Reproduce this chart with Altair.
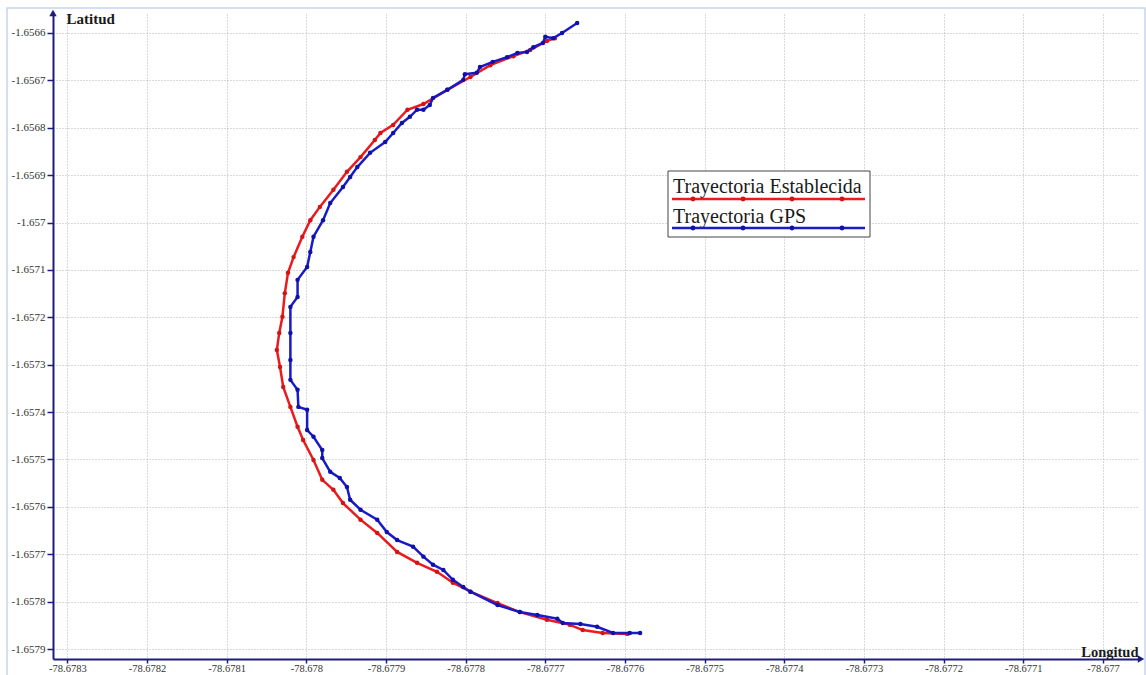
import altair as alt
import pandas as pd

# Planned path (red) and GPS fixes (blue), in degrees
ref_lon = [-78.677688, -78.677698, -78.677719, -78.677740, -78.677769, -78.677794, -78.677823,
           -78.677853, -78.677873, -78.677891, -78.677907, -78.677914, -78.677932, -78.677949,
           -78.677966, -78.677983, -78.677995, -78.678005, -78.678016, -78.678023, -78.678027,
           -78.678030, -78.678034, -78.678037, -78.678033, -78.678029, -78.678020, -78.678011,
           -78.678004, -78.677991, -78.677980, -78.677966, -78.677954, -78.677932, -78.677911,
           -78.677886, -78.677861, -78.677836, -78.677816, -78.677794, -78.677760, -78.677732,
           -78.677698, -78.677669, -78.677653, -78.677628, -78.677597]
ref_lat = [-1.656611, -1.656617, -1.656636, -1.656649, -1.656668, -1.656693, -1.656720,
           -1.656750, -1.656762, -1.656794, -1.656811, -1.656826, -1.656862, -1.656893,
           -1.656931, -1.656967, -1.656995, -1.657030, -1.657073, -1.657106, -1.657149,
           -1.657199, -1.657233, -1.657269, -1.657305, -1.657347, -1.657389, -1.657431,
           -1.657459, -1.657501, -1.657543, -1.657564, -1.657592, -1.657627, -1.657655,
           -1.657695, -1.657718, -1.657737, -1.657760, -1.657779, -1.657803, -1.657822,
           -1.657838, -1.657849, -1.657860, -1.657866, -1.657868]

gps_lon = [-78.677660, -78.677679, -78.677690, -78.677700, -78.677703, -78.677715, -78.677723,
           -78.677735, -78.677748, -78.677766, -78.677782, -78.677786, -78.677801, -78.677803,
           -78.677823, -78.677841, -78.677845, -78.677853, -78.677861, -78.677870, -78.677880,
           -78.677891, -78.677901, -78.677920, -78.677936, -78.677945, -78.677954, -78.677970,
           -78.677979, -78.677991, -78.677995, -78.677999, -78.678011, -78.678011, -78.678020,
           -78.678020, -78.678020, -78.678020, -78.678011, -78.678010, -78.677999, -78.677999,
           -78.677991, -78.677980, -78.677980, -78.677970, -78.677958, -78.677949, -78.677945,
           -78.677932, -78.677911, -78.677899, -78.677886, -78.677866, -78.677853, -78.677841,
           -78.677828, -78.677816, -78.677803, -78.677794, -78.677760, -78.677732, -78.677710,
           -78.677685, -78.677678, -78.677656, -78.677635, -78.677615, -78.677594, -78.677581]
gps_lat = [-1.656579, -1.656600, -1.656611, -1.656608, -1.656621, -1.656630, -1.656640,
           -1.656642, -1.656651, -1.656661, -1.656672, -1.656684, -1.656687, -1.656699,
           -1.656720, -1.656737, -1.656752, -1.656762, -1.656762, -1.656777, -1.656790,
           -1.656811, -1.656830, -1.656853, -1.656883, -1.656904, -1.656925, -1.656959,
           -1.656995, -1.657030, -1.657062, -1.657094, -1.657121, -1.657157, -1.657178,
           -1.657233, -1.657290, -1.657332, -1.657353, -1.657389, -1.657395, -1.657438,
           -1.657452, -1.657480, -1.657497, -1.657526, -1.657539, -1.657558, -1.657585,
           -1.657606, -1.657627, -1.657653, -1.657670, -1.657684, -1.657705, -1.657722,
           -1.657733, -1.657754, -1.657769, -1.657779, -1.657807, -1.657822, -1.657828,
           -1.657836, -1.657845, -1.657847, -1.657853, -1.657866, -1.657866, -1.657866]

lon_ticks = [-78.6783, -78.6782, -78.6781, -78.678, -78.6779, -78.6778, -78.6777,
             -78.6776, -78.6775, -78.6774, -78.6773, -78.6772, -78.6771, -78.677]
lat_ticks = [-1.6566, -1.6567, -1.6568, -1.6569, -1.657, -1.6571, -1.6572,
             -1.6573, -1.6574, -1.6575, -1.6576, -1.6577, -1.6578, -1.6579]

lon_domain = [-78.678318, -78.676956]
lat_domain = [-1.657921, -1.656560]

legend_names = ["Trayectoria Establecida", "Trayectoria GPS"]
RED, RED_DOT = "#ec1a1e", "#d41414"
BLUE, BLUE_DOT = "#1a1ac8", "#1010aa"
NAVY = "#1c1c7e"
SERIF = "Liberation Serif"

W, H = 1085, 645

ref_df = pd.DataFrame({"lon": ref_lon, "lat": ref_lat, "seq": list(range(len(ref_lon)))})
gps_df = pd.DataFrame({"lon": gps_lon, "lat": gps_lat, "seq": list(range(len(gps_lon)))})

label_expr = "replace(format(datum.value, '.4~f'), '\u2212', '-')"

x_enc = alt.X(
    "lon:Q",
    scale=alt.Scale(domain=lon_domain, nice=False, zero=False),
    axis=alt.Axis(
        values=lon_ticks, labelExpr=label_expr, title="Longitud",
        titleX=W, titleY=-3, titleAlign="right", titleBaseline="alphabetic",
        titleFont=SERIF, titleFontSize=14.5, titleFontWeight="bold", titleColor="#1a1a1a",
        labelFont=SERIF, labelFontSize=10.5, labelColor="#333333", labelPadding=0,
        labelOverlap=False, labelFlush=False,
        domainColor=NAVY, domainWidth=2, tickColor=NAVY, tickWidth=1.5, tickSize=4,
        grid=True, gridColor="#b4b4b4", gridDash=[1, 2], gridWidth=1,
    ),
)
y_enc = alt.Y(
    "lat:Q",
    scale=alt.Scale(domain=lat_domain, nice=False, zero=False),
    axis=alt.Axis(
        values=lat_ticks, labelExpr=label_expr, title="Latitud",
        titleAngle=0, titleX=13, titleY=4, titleAlign="left", titleBaseline="middle",
        titleFont=SERIF, titleFontSize=15, titleFontWeight="bold", titleColor="#1a1a1a",
        labelFont=SERIF, labelFontSize=11, labelColor="#333333", labelPadding=2,
        labelOverlap=False, labelFlush=False,
        domainColor=NAVY, domainWidth=2, tickColor=NAVY, tickWidth=1.5, tickSize=6,
        grid=True, gridColor="#b4b4b4", gridDash=[1, 2], gridWidth=1,
    ),
)


def track(df, line_color, dot_color):
    base = alt.Chart(df)
    line = base.mark_line(color=line_color, strokeWidth=2.5).encode(x=x_enc, y=y_enc, order="seq:Q")
    dots = base.mark_circle(color=dot_color, size=20, opacity=1).encode(x=x_enc, y=y_enc)
    return line + dots


one = alt.Data(values=[{}])

# outer light frame and axis arrow heads
frame = alt.Chart(one).mark_rect(filled=False, stroke="#c6d6ec", strokeWidth=1.5).encode(
    x=alt.value(-46), x2=alt.value(1092), y=alt.value(-6), y2=alt.value(700)
)
arrow_up = alt.Chart(one).mark_point(shape="triangle-up", filled=True, color=NAVY, size=55, opacity=1).encode(
    x=alt.value(0), y=alt.value(-1)
)
arrow_right = alt.Chart(one).mark_point(shape="triangle-right", filled=True, color=NAVY, size=55, opacity=1).encode(
    x=alt.value(W + 3), y=alt.value(H)
)

# boxed legend: name above a sample of each line
legend_layers = [
    alt.Chart(one).mark_rect(fill="white", stroke="#444444", strokeWidth=1).encode(
        x=alt.value(615), x2=alt.value(817), y=alt.value(157), y2=alt.value(223)
    )
]
for i, (name, lc, dc) in enumerate(zip(legend_names, [RED, BLUE], [RED_DOT, BLUE_DOT])):
    base_y = 179 + 30 * i
    line_y = 185 + 29 * i
    legend_layers.append(
        alt.Chart(one).mark_text(align="left", baseline="alphabetic", font=SERIF, fontSize=20, color="#1a1a1a").encode(
            x=alt.value(620), y=alt.value(base_y), text=alt.value(name)
        )
    )
    legend_layers.append(
        alt.Chart(one).mark_rule(color=lc, strokeWidth=2.5).encode(
            x=alt.value(619), x2=alt.value(812), y=alt.value(line_y)
        )
    )
    for px in (640, 690, 739, 789):
        legend_layers.append(
            alt.Chart(one).mark_circle(color=dc, size=24, opacity=1).encode(
                x=alt.value(px), y=alt.value(line_y)
            )
        )

chart = alt.layer(
    frame,
    track(ref_df, RED, RED_DOT),
    track(gps_df, BLUE, BLUE_DOT),
    arrow_up,
    arrow_right,
    *legend_layers,
).properties(
    width=W,
    height=H,
    autosize=alt.AutoSizeParams(type="none"),
    padding={"left": 53, "top": 14, "right": 8, "bottom": 16},
    background="white",
).configure_view(strokeWidth=0)

chart.save("out.html", embed_options={"renderer": "svg", "actions": False})
